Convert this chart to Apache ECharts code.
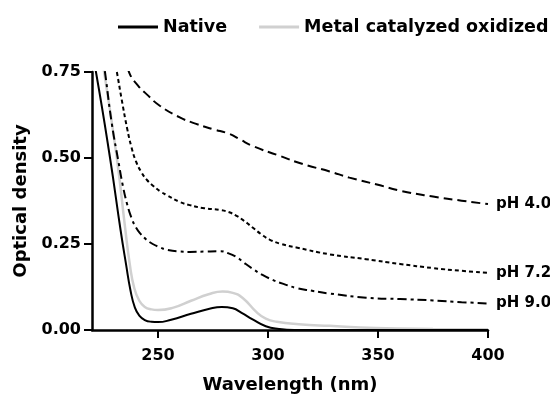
<!DOCTYPE html>
<html>
<head>
<meta charset="utf-8">
<script src="https://cdn.jsdelivr.net/npm/echarts@6/dist/echarts.min.js"></script>
<style>html,body{margin:0;padding:0;background:#fff}#c{width:550px;height:399px}</style>
</head>
<body>
<div id="c"></div>
<script>
var xTicks = [250, 300, 350, 400];
var yTicks = [0, 0.25, 0.5, 0.75];
var seriesNames = ['Native', 'Metal catalyzed oxidized', 'pH 4.0', 'pH 7.2', 'pH 9.0'];

var native = [[220,0.80],[221.8,0.75],[228.2,0.50],[233,0.29],[235.5,0.19],[237.5,0.115],[239.5,0.065],[241.5,0.042],[244,0.029],[247,0.024],[250,0.023],[256,0.03],[265,0.047],[273,0.061],[279,0.067],[284,0.063],[288,0.05],[293,0.031],[299,0.011],[305,0.003],[312,0],[400,0]];
var oxidized = [[223.5,0.81],[225.5,0.75],[231.3,0.50],[235,0.30],[237.2,0.19],[239.2,0.122],[241.5,0.085],[244,0.067],[247,0.06],[250,0.058],[257,0.065],[265,0.085],[273,0.104],[279.4,0.112],[284,0.108],[288.5,0.093],[294.8,0.052],[299,0.033],[304,0.024],[314,0.017],[328,0.012],[349,0.006],[375,0.003],[400,0.002]];
var ph40 = [[235,0.80],[237,0.747],[241,0.71],[244.9,0.685],[250.8,0.652],[259.9,0.618],[267,0.6],[274.9,0.584],[282.5,0.57],[287,0.555],[293,0.535],[305,0.507],[316,0.482],[328,0.461],[337,0.443],[350,0.422],[360,0.405],[375,0.388],[388,0.376],[400,0.366]];
var ph72 = [[229.5,0.81],[231.3,0.75],[233.5,0.67],[236,0.585],[238,0.53],[240,0.49],[242.5,0.458],[245,0.436],[248,0.418],[251,0.403],[254,0.392],[260,0.372],[264.4,0.363],[271,0.354],[278,0.349],[282,0.343],[285.7,0.332],[289,0.318],[293,0.298],[297,0.278],[300.7,0.263],[306,0.25],[312.9,0.24],[328,0.22],[344.6,0.206],[360,0.192],[375,0.18],[388,0.172],[400,0.166]];
var ph90 = [[224.5,0.81],[225.9,0.75],[229,0.6],[232,0.49],[234,0.42],[236,0.365],[238,0.325],[240,0.298],[242,0.28],[244.5,0.264],[247.6,0.25],[251,0.24],[254,0.233],[260,0.228],[264.4,0.227],[271,0.228],[278,0.229],[282,0.223],[285.7,0.212],[289,0.196],[293,0.178],[297,0.162],[302,0.146],[307,0.134],[313,0.122],[320,0.114],[328,0.106],[344.6,0.094],[360,0.09],[375,0.086],[388,0.081],[400,0.077]];

var FONT = 'DejaVu Sans';
var chart = echarts.init(document.getElementById('c'), null, {renderer: 'canvas'});

function endLbl(txt) {
  return {show: true, formatter: txt, color: '#000', fontFamily: FONT, fontWeight: 'bold', fontSize: 15, distance: 8};
}
function lineSeries(name, data, color, width, type, label) {
  return {
    name: name, type: 'line', data: data, color: color,
    showSymbol: false, symbol: 'none', smooth: 0.5,
    lineStyle: {color: color, width: width, type: type},
    endLabel: label ? endLbl(label) : {show: false},
    emphasis: {disabled: true}
  };
}

chart.setOption({
  animation: false,
  backgroundColor: '#fff',
  grid: {left: 92, right: 62, top: 72, bottom: 65, containLabel: false},
  legend: {
    data: [seriesNames[0], seriesNames[1]],
    left: 118, top: 18, padding: 0,
    icon: 'rect', itemWidth: 40, itemHeight: 3, itemGap: 32,
    textStyle: {fontFamily: FONT, fontWeight: 'bold', fontSize: 17.5, color: '#000'}
  },
  xAxis: {
    type: 'value', min: 220, max: 400,
    name: 'Wavelength (nm)', nameLocation: 'middle', nameGap: 46,
    nameTextStyle: {fontFamily: FONT, fontWeight: 'bold', fontSize: 18, color: '#000'},
    axisLine: {show: true, lineStyle: {color: '#000', width: 2.5}},
    axisTick: {show: true, length: 8, customValues: xTicks, lineStyle: {color: '#000', width: 2}},
    axisLabel: {customValues: xTicks, margin: 18, fontFamily: FONT, fontWeight: 'bold', fontSize: 16, color: '#000'},
    splitLine: {show: false}
  },
  yAxis: {
    type: 'value', min: 0, max: 0.75,
    name: 'Optical density', nameLocation: 'middle', nameGap: 62,
    nameTextStyle: {fontFamily: FONT, fontWeight: 'bold', fontSize: 18, color: '#000'},
    axisLine: {show: true, lineStyle: {color: '#000', width: 2.5}},
    axisTick: {show: true, length: 8, customValues: yTicks, lineStyle: {color: '#000', width: 2}},
    axisLabel: {customValues: yTicks, margin: 11, fontFamily: FONT, fontWeight: 'bold', fontSize: 16, color: '#000',
      formatter: function (v) { return v.toFixed(2); }},
    splitLine: {show: false}
  },
  series: [
    lineSeries(seriesNames[1], oxidized, '#d0d0d0', 2.5, 'solid', null),
    lineSeries(seriesNames[0], native, '#000000', 2, 'solid', null),
    lineSeries(seriesNames[2], ph40, '#000000', 2, [9, 5], seriesNames[2]),
    lineSeries(seriesNames[3], ph72, '#000000', 2, [4, 3], seriesNames[3]),
    lineSeries(seriesNames[4], ph90, '#000000', 2, [9, 4, 3, 4], seriesNames[4])
  ]
});
</script>
</body>
</html>
